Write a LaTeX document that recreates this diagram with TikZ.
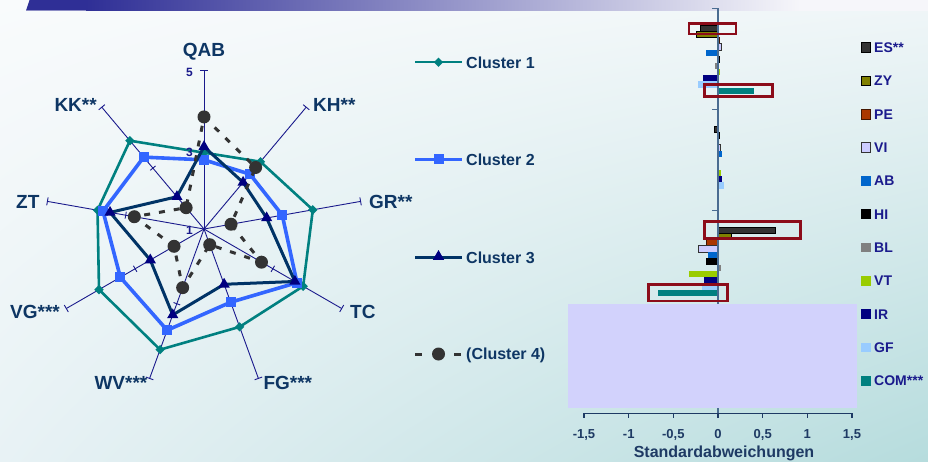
\documentclass[tikz,border=0pt]{standalone}
\usepackage{fontspec}
\setmainfont{Liberation Sans}
\usetikzlibrary{shapes.geometric,shadings}
\definecolor{bgUL}{RGB}{249,251,252}
\definecolor{bgUR}{RGB}{240,246,248}
\definecolor{bgLL}{RGB}{232,242,245}
\definecolor{bgLR}{RGB}{182,220,221}
\definecolor{banner}{RGB}{47,47,150}
\definecolor{bannerend}{RGB}{246,246,250}
\definecolor{lbl}{RGB}{14,54,100}
\definecolor{axnavy}{RGB}{26,26,140}
\definecolor{cteal}{RGB}{0,128,128}
\definecolor{cblue}{RGB}{51,102,255}
\definecolor{cnavyl}{RGB}{0,51,102}
\definecolor{cnavym}{RGB}{0,0,128}
\definecolor{cgray}{RGB}{51,51,51}
\definecolor{legtxt}{RGB}{26,26,140}
\definecolor{baxis}{RGB}{74,108,145}
\definecolor{xaxis}{RGB}{30,58,100}
\definecolor{hired}{RGB}{140,12,26}
\definecolor{mask}{RGB}{210,210,252}
\definecolor{bES}{RGB}{51,51,51}
\definecolor{bZY}{RGB}{128,128,0}
\definecolor{bPE}{RGB}{170,55,0}
\definecolor{bVI}{RGB}{204,204,255}
\definecolor{bAB}{RGB}{0,102,204}
\definecolor{bHI}{RGB}{0,0,0}
\definecolor{bBL}{RGB}{128,128,128}
\definecolor{bVT}{RGB}{153,204,0}
\definecolor{bIR}{RGB}{0,0,128}
\definecolor{bGF}{RGB}{153,204,255}
\definecolor{bCOM}{RGB}{0,128,128}
\tikzset{
  axisline/.style={draw=axnavy,line width=0.9},
  s1line/.style={draw=cteal,line width=2.6,line join=round},
  s2line/.style={draw=cblue,line width=3.6,line join=round},
  s3line/.style={draw=cnavyl,line width=3,line join=round},
  s4line/.style={draw=cgray,line width=3,dash pattern=on 6 off 9},
  dmark/.style={shape=diamond,fill=cteal,minimum width=9.5,minimum height=9.5,inner sep=0},
  smark/.style={shape=rectangle,fill=cblue,minimum size=10,inner sep=0},
  tmark/.style={shape=regular polygon,regular polygon sides=3,fill=cnavym,minimum size=13,inner sep=0},
  cmark/.style={shape=circle,fill=cgray,minimum size=13,inner sep=0},
  biglbl/.style={font=\fontsize{19}{19}\selectfont\bfseries,text=lbl,inner sep=0},
  numlbl/.style={font=\fontsize{12}{12}\selectfont\bfseries,text=axnavy,inner sep=0},
  clbl/.style={font=\fontsize{16}{16}\selectfont\bfseries,text=lbl,inner sep=0,anchor=base west},
  leglbl/.style={font=\fontsize{14}{14}\selectfont\bfseries,text=legtxt,inner sep=0,anchor=base west},
  ticklbl/.style={font=\fontsize{13}{13}\selectfont\bfseries,text=xaxis,inner sep=0,anchor=base},
  legsq/.style={shape=rectangle,minimum size=9.5,inner sep=0},
  bar0/.style={fill=bES,draw=black,line width=0.8},
  bar1/.style={fill=bZY,draw=black,line width=0.8},
  bar2/.style={fill=bPE,draw=black!60!bPE,line width=0.6},
  bar3/.style={fill=bVI,draw=cgray,line width=0.8},
  bar4/.style={fill=bAB},
  bar5/.style={fill=bHI},
  bar6/.style={fill=bBL},
  bar7/.style={fill=bVT},
  bar8/.style={fill=bIR},
  bar9/.style={fill=bGF},
  bar10/.style={fill=bCOM},
  hirect/.style={draw=hired,line width=2.8},
}
\newcommand\radarseries[2]{%
  \foreach \v [count=\i] in {#2} {\coordinate (#1\i) at ({130-40*\i}:{(\v-1)*39.75});}%
}
\newcommand\bargroup[2]{%
  \foreach \v [count=\i from 0] in {#2} {%
    \pgfmathsetmacro\ytop{8.3+101*#1+16.7+6.27*\i}%
    \pgfmathsetmacro\ybot{\ytop+6.27}%
    \pgfmathsetmacro\xend{718+\v*89.33}%
    \path[bar\i] (718,-\ytop) rectangle (\xend,-\ybot);%
  }%
}
\begin{document}
\begin{tikzpicture}[x=1pt,y=1pt]
\useasboundingbox (0,0) rectangle (928,-461);
% background
\shade[upper left=bgUL,upper right=bgUR,lower left=bgLL,lower right=bgLR] (0,0) rectangle (928,-461);
% banner
\fill[banner] (26,-10.5) -- (29.5,0) -- (86.5,0) -- (86.5,-10.5) -- cycle;
\fill[banner!55!white] (26.3,-9.8) rectangle (86.5,-10.6);
\shade[left color=banner,right color=bannerend] (86,0) rectangle (800,-10.5);
\fill[bannerend] (799.5,0) rectangle (928,-10.5);

% ---------------- radar chart ----------------
\begin{scope}[shift={(204,-229)}]
  \foreach \a in {90,50,10,-30,-70,-110,-150,170,130} {
    \draw[axisline] (0,0) -- (\a:159);
    \draw[axisline] (\a:159) ++(\a+90:4) -- ++(\a-90:8);
    \draw[axisline] (\a:79.5) ++(\a+90:3.5) -- ++(\a-90:7);
  }
  \radarseries{t}{2.92,3.21,3.78,3.88,3.62,4.23,4.05,3.72,3.90}
  \radarseries{b}{2.74,2.80,3.00,3.70,2.96,3.71,3.43,3.58,3.36}
  \radarseries{n}{3.07,2.53,2.60,3.64,2.48,3.30,2.56,3.40,2.06}
  \radarseries{g}{3.82,3.02,1.69,2.67,1.42,2.57,1.87,2.78,1.70}
  \draw[s1line] (t1) -- (t2) -- (t3) -- (t4) -- (t5) -- (t6) -- (t7) -- (t8) -- (t9) -- cycle;
  \foreach \i in {1,...,9} \node[dmark] (mt\i) at (t\i) {};
  \draw[s2line] (b1) -- (b2) -- (b3) -- (b4) -- (b5) -- (b6) -- (b7) -- (b8) -- (b9) -- cycle;
  \foreach \i in {1,...,9} \node[smark] (mb\i) at (b\i) {};
  \draw[s3line] (n1) -- (n2) -- (n3) -- (n4) -- (n5) -- (n6) -- (n7) -- (n8) -- (n9) -- cycle;
  \foreach \i in {1,...,9} \node[tmark] (mn\i) at (n\i) {};
  \draw[s4line] (g1) -- (g2) -- (g3) -- (g4) -- (g5) -- (g6) -- (g7) -- (g8) -- (g9) -- cycle;
  \foreach \i in {1,...,9} \node[cmark] (mg\i) at (g\i) {};
\end{scope}
% axis value labels
\node[numlbl,anchor=base east] (v5) at (193,-76) {5};
\node[numlbl,anchor=base east] (v3) at (193,-156.5) {3};
\node[numlbl,anchor=base east] (v1) at (193,-234) {1};
% axis names
\node[biglbl,anchor=base] (lQAB) at (204,-56.7) {QAB};
\node[biglbl,anchor=base west] (lKH) at (313,-111.7) {KH**};
\node[biglbl,anchor=base west] (lGR) at (369,-208.5) {GR**};
\node[biglbl,anchor=base west] (lTC) at (350,-318.3) {TC};
\node[biglbl,anchor=base west] (lFG) at (263.3,-389.3) {FG***};
\node[biglbl,anchor=base west] (lWV) at (94.3,-389.3) {WV***};
\node[biglbl,anchor=base west] (lVG) at (10,-318.3) {VG***};
\node[biglbl,anchor=base west] (lZT) at (16,-208.5) {ZT};
\node[biglbl,anchor=base west] (lKK) at (54.3,-111.7) {KK**};

% ---------------- radar legend ----------------
\coordinate (k1a) at (415,-62.3); \coordinate (k1b) at (462,-62.3);
\draw[s1line,line width=2.3] (k1a) -- (k1b);
\node[dmark] (k1m) at (438.5,-62.3) {};
\node[clbl] (k1t) at (466,-68.1) {Cluster 1};
\coordinate (k2a) at (415,-159.3); \coordinate (k2b) at (462,-159.3);
\draw[s2line,line width=3] (k2a) -- (k2b);
\node[smark] (k2m) at (438.5,-159.3) {};
\node[clbl] (k2t) at (466,-165.1) {Cluster 2};
\coordinate (k3a) at (415,-257.7); \coordinate (k3b) at (462,-257.7);
\draw[s3line,line width=3] (k3a) -- (k3b);
\node[tmark] (k3m) at (438.5,-256.5) {};
\node[clbl] (k3t) at (466,-263.5) {Cluster 3};
\coordinate (k4a) at (415,-354); \coordinate (k4b) at (422,-354);
\coordinate (k4c) at (454,-354); \coordinate (k4d) at (461,-354);
\draw[draw=cgray,line width=3] (k4a) -- (k4b) (k4c) -- (k4d);
\node[cmark] (k4m) at (438.5,-354) {};
\node[clbl] (k4t) at (466,-359.8) {(Cluster 4)};

% ---------------- bar chart ----------------
\bargroup{0}{-0.20,-0.24,0.01,0.04,-0.13,0.02,-0.03,0.02,-0.17,-0.22,0.40}
\bargroup{1}{-0.045,0.01,-0.01,0.03,0.04,0.01,0.0,0.03,0.05,0.07,0.01}
\bargroup{2}{0.64,0.15,-0.13,-0.22,-0.11,-0.13,0.03,-0.32,-0.16,-0.18,-0.67}
% value axis (vertical line at 0)
\coordinate (ya) at (718,-8.3); \coordinate (yb) at (718,-413.3);
\draw[draw=baxis,line width=1.5] (ya) -- (yb);
\foreach \y in {8.3,109.3,210.3,311.3} \draw[draw=baxis,line width=1.2] (712,-\y) -- (718,-\y);
% highlight rectangles
\draw[hirect] (689,-23.5) rectangle (736,-34);
\draw[hirect] (704.8,-84.8) rectangle (772.8,-96.5);
\draw[hirect] (704.8,-221.5) rectangle (800.2,-238.5);
\draw[hirect] (648.8,-284.8) rectangle (727.8,-301);
% mask rectangle
\fill[mask] (568,-304) rectangle (857,-407.7);
% x axis
\coordinate (xa) at (584,-413.3); \coordinate (xb) at (852,-413.3);
\draw[draw=xaxis,line width=1.3] (xa) -- (xb);
\foreach \x in {584,628.7,673.3,718,762.7,807.3,852} \draw[draw=xaxis,line width=1.2] (\x,-413.3) -- (\x,-417.5);
\node[ticklbl] (x1) at (584,-438) {-1,5};
\node[ticklbl] (x2) at (628.7,-438) {-1};
\node[ticklbl] (x3) at (673.3,-438) {-0,5};
\node[ticklbl] (x4) at (718,-438) {0};
\node[ticklbl] (x5) at (762.7,-438) {0,5};
\node[ticklbl] (x6) at (807.3,-438) {1};
\node[ticklbl] (x7) at (852,-438) {1,5};
\node[ticklbl,font=\fontsize{16}{16}\selectfont\bfseries] (xt) at (724,-457.7) {Standardabweichungen};
% bar legend
\foreach \t [count=\i from 0] in {ES**,ZY,PE,VI,AB,HI,BL,VT,IR,GF,COM***} {
  \node[legsq,bar\i] (lsq\i) at (866,{-(47.5+33.33*\i)}) {};
  \node[leglbl] (ltx\i) at (874,{-(47.5+33.33*\i)-5}) {\t};
}
\end{tikzpicture}
\end{document}
